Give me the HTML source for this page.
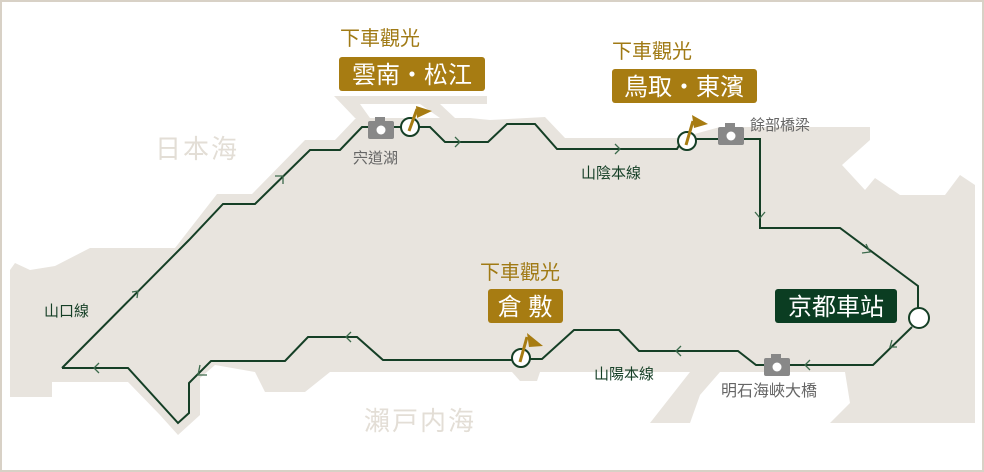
<!DOCTYPE html>
<html><head><meta charset="utf-8"><style>
body{margin:0;background:#fff}
svg{display:block}
text{font-family:"Liberation Sans","Noto Sans CJK TC",sans-serif}
</style></head><body>
<svg width="984" height="472" viewBox="0 0 984 472" xmlns="http://www.w3.org/2000/svg">
<rect x="1" y="1" width="982" height="470" fill="#fff" stroke="#d8d1c6" stroke-width="2"/>
<polygon fill="#e8e4de" points="10,270 15,263 30,270 55,266 90,248 175,248 217,194 252,194 305,140 335,140 356,118 470,118 490,120 545,117 565,138 680,138 720,127 870,127 870,140 842,165 865,190 875,178 900,195 945,195 960,175 975,185 975,423 830,423 850,403 845,372 720,372 700,395 690,423 650,423 690,372 540,372 537,381 520,381 512,372 330,372 305,392 265,392 255,372 215,365 200,378 200,415 178,435 160,415 128,382 52,382 52,397 10,397"/>
<polygon fill="#e8e4de" points="334,96 487,96 487,104 360,104 370,118 355,118"/>
<polygon fill="#e8e4de" points="420,104 440,104 455,118 440,118"/>
<polygon fill="#fff" points="230,372 250,372 255,390 245,395 235,385 220,385"/>
<text x="155" y="158" font-size="26" fill="#e3ded6" letter-spacing="2">日本海</text>
<text x="364" y="430" font-size="26" fill="#e3ded6" letter-spacing="2">瀨戸内海</text>
<g fill="none" stroke="#153f26" stroke-width="2">
<polyline points="62,368 189,240 223,204 255,204 310,150 340,150 362,127 430,127 445,142 488,142 507,124 535,124 557,149 677,149 681,142"/>
<polyline points="696,139 760,139 760,228 840,228 918,286 918,308"/>
<polyline points="912,327 873,365 756,365 738,351 639,351 619,330 574,330 542,359 530,359"/>
<polyline points="512,360 383,360 357,337 308,337 285,361 211,361 189,383 189,413 178,423 128,368 62,368"/>
</g>
<g fill="none" stroke="#3c6a4c" stroke-width="1.3">
<path d="M275,176 L283,176 L283,184"/><path d="M132,292 L138,291 L137,298"/>
<path d="M455,137 L460,142 L455,147"/><path d="M615,144 L620,149 L615,154"/>
<path d="M755,212 L760,218 L765,212"/><path d="M866,244 L870,252 L862,253"/>
<path d="M892,340 L890,347 L897,347"/><path d="M810,360 L805,365 L810,370"/>
<path d="M681,346 L676,351 L681,356"/><path d="M351,332 L346,337 L351,342"/>
<path d="M99,363 L94,368 L99,373"/><path d="M200,365 L198,375 L207,375"/>
</g>
<g fill="#fff" stroke="#153f26" stroke-width="2">
<circle cx="410" cy="127" r="9"/><circle cx="687" cy="141" r="9"/><circle cx="521" cy="358" r="9"/><circle cx="919" cy="318" r="10"/>
</g>
<g fill="#a77c12">
<path d="M409,131 L417,109" stroke="#a77c12" stroke-width="3"/><polygon points="416,106 432,111 417,118"/>
<path d="M686,145 L693,121" stroke="#a77c12" stroke-width="3"/><polygon points="692,115 708,124 694,128"/>
<path d="M520,362 L527,337" stroke="#a77c12" stroke-width="3"/><polygon points="527,333 543,346 529,347"/>
</g>
<g fill="#888">
<rect x="368" y="121" width="26" height="18" rx="2"/><rect x="375" y="117" width="10" height="5"/>
<rect x="718" y="127" width="26" height="18" rx="2"/><rect x="725" y="123" width="10" height="5"/>
<rect x="764" y="358" width="26" height="18" rx="2"/><rect x="771" y="354" width="10" height="5"/>
</g>
<g fill="#fff"><circle cx="381" cy="130" r="4.5"/><circle cx="731" cy="136" r="4.5"/><circle cx="777" cy="367" r="4.5"/></g>
<text x="353" y="163" font-size="15" fill="#666">宍道湖</text>
<text x="750" y="130" font-size="15" fill="#666">餘部橋梁</text>
<text x="721" y="396" font-size="16" fill="#666">明石海峽大橋</text>
<text x="581" y="178" font-size="15" fill="#153f26">山陰本線</text>
<text x="594" y="379" font-size="15" fill="#153f26">山陽本線</text>
<text x="44" y="316" font-size="15" fill="#153f26">山口線</text>
<text x="340" y="45" font-size="20" fill="#a07a15">下車觀光</text>
<text x="612" y="58" font-size="20" fill="#a07a15">下車觀光</text>
<text x="480" y="279" font-size="20" fill="#a07a15">下車觀光</text>
<rect x="339" y="57" width="146" height="34" rx="3" fill="#a77c12"/>
<text x="412" y="83" font-size="24" fill="#fff" text-anchor="middle">雲南・松江</text>
<rect x="612" y="69" width="145" height="34" rx="3" fill="#a77c12"/>
<text x="684" y="95" font-size="24" fill="#fff" text-anchor="middle">鳥取・東濱</text>
<rect x="488" y="289" width="75" height="34" rx="3" fill="#a77c12"/>
<text x="525" y="315" font-size="24" fill="#fff" text-anchor="middle">倉 敷</text>
<rect x="775" y="289" width="122" height="34" rx="3" fill="#0b3d22"/>
<text x="836" y="315" font-size="24" fill="#fff" text-anchor="middle">京都車站</text>
</svg>
</body></html>
